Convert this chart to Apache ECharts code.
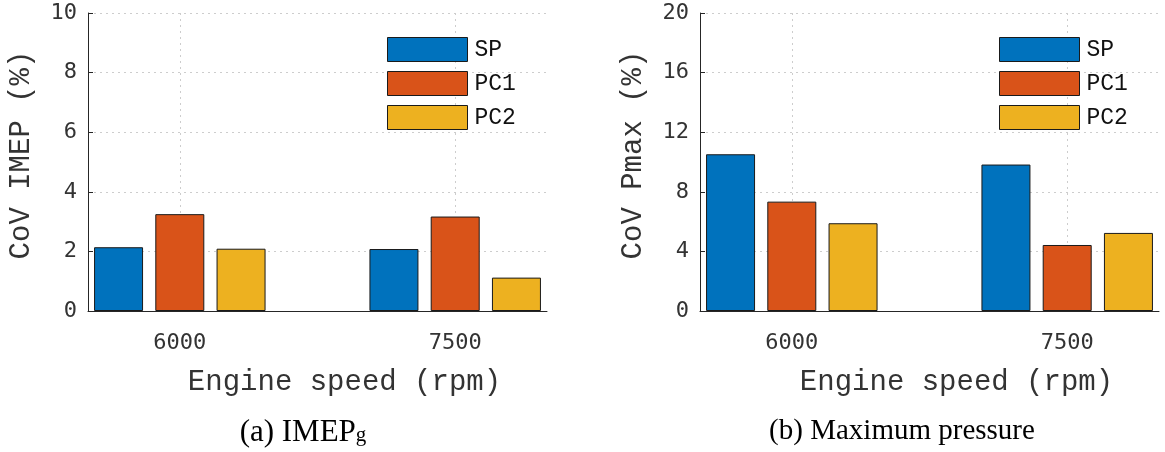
<!DOCTYPE html>
<html>
<head>
<meta charset="utf-8">
<script src="https://cdn.jsdelivr.net/npm/echarts@6/dist/echarts.min.js"></script>
<style>
  html, body { margin: 0; padding: 0; background: #fff; }
  #chart { width: 1165px; height: 452px; }
</style>
</head>
<body>
<div id="chart"></div>
<script>
// Engine speeds (bar groups) and combustion strategies (bars within a group)
const speeds = ['6000', '7500'];
const strategies = ['SP', 'PC1', 'PC2'];
const colors = ['#0072BD', '#D95319', '#EDB120'];

// CoV of gross IMEP (%)
const imepSP  = [2.14, 2.08];
const imepPC1 = [3.25, 3.17];
const imepPC2 = [2.09, 1.12];

// CoV of maximum cylinder pressure (%)
const pmaxSP  = [10.52, 9.83];
const pmaxPC1 = [7.34, 4.43];
const pmaxPC2 = [5.89, 5.24];

// Y axis ranges
const imepAxis = { min: 0, max: 10, interval: 2 };
const pmaxAxis = { min: 0, max: 20, interval: 4 };

const axisColor = '#262626';
const gridColor = '#cdcdcd';
const tickFont = 'DejaVu Sans Mono';
const labelFont = '"Courier New", "Liberation Mono", monospace';

const speedPositions = speeds.map((s, i) => i + 1);

function xAxisFor(gridIndex) {
  return {
    type: 'value',
    gridIndex: gridIndex,
    min: 2 / 3,
    max: 7 / 3,
    name: 'Engine speed (rpm)',
    nameLocation: 'middle',
    nameGap: 57,
    nameTextStyle: { fontFamily: labelFont, fontSize: 29, color: '#333', padding: [0, 0, 0, 54] },
    axisLine: { show: true, onZero: false, lineStyle: { color: axisColor, width: 1 } },
    axisTick: { show: true, inside: true, length: 5, customValues: speedPositions, lineStyle: { color: axisColor } },
    axisLabel: {
      customValues: speedPositions,
      formatter: v => speeds[Math.round(v) - 1] || '',
      fontFamily: tickFont, fontSize: 22, color: '#333', margin: 21
    },
    splitLine: { show: true, lineStyle: { color: gridColor, type: [2, 4], width: 1 } }
  };
}

function yAxisFor(gridIndex, range, name) {
  return {
    type: 'value',
    gridIndex: gridIndex,
    min: range.min,
    max: range.max,
    interval: range.interval,
    name: name,
    nameLocation: 'middle',
    nameGap: 52,
    nameTextStyle: { fontFamily: labelFont, fontSize: 29, color: '#333', padding: [0, 0, 0, 14] },
    axisLine: { show: true, lineStyle: { color: axisColor, width: 1 } },
    axisTick: { show: true, inside: true, length: 5, lineStyle: { color: axisColor } },
    axisLabel: { fontFamily: tickFont, fontSize: 22, color: '#333', margin: 11 },
    splitLine: { show: true, lineStyle: { color: gridColor, type: [2, 4], width: 1 } }
  };
}

function barSeries(name, values, color, axisIndex) {
  return {
    type: 'bar',
    name: name,
    xAxisIndex: axisIndex,
    yAxisIndex: axisIndex,
    data: values.map((v, i) => [speedPositions[i], v]),
    barWidth: 49,
    barGap: '25%',
    itemStyle: { color: color, borderColor: '#1a1a1a', borderWidth: 1 },
    emphasis: { disabled: true },
    animation: false
  };
}

function legendFor(left) {
  return {
    orient: 'vertical',
    left: left,
    top: 37,
    padding: 0,
    itemWidth: 80,
    itemHeight: 24,
    itemGap: 9,
    icon: 'rect',
    selectedMode: false,
    data: strategies,
    itemStyle: { borderColor: '#1a1a1a', borderWidth: 1 },
    textStyle: { fontFamily: labelFont, fontSize: 23, color: '#111', padding: [3, 0, 0, 2] }
  };
}

const chart = echarts.init(document.getElementById('chart'), null, { renderer: 'canvas' });

chart.setOption({
  backgroundColor: '#fff',
  animation: false,
  grid: [
    { left: 88, right: 618, top: 13, bottom: 141 },
    { left: 700, right: 6, top: 13, bottom: 141 }
  ],
  xAxis: [xAxisFor(0), xAxisFor(1)],
  yAxis: [
    yAxisFor(0, imepAxis, 'CoV IMEP (%)'),
    yAxisFor(1, pmaxAxis, 'CoV Pmax (%)')
  ],
  legend: [legendFor(387), legendFor(999)],
  series: [
    barSeries(strategies[0], imepSP, colors[0], 0),
    barSeries(strategies[1], imepPC1, colors[1], 0),
    barSeries(strategies[2], imepPC2, colors[2], 0),
    barSeries(strategies[0], pmaxSP, colors[0], 1),
    barSeries(strategies[1], pmaxPC1, colors[1], 1),
    barSeries(strategies[2], pmaxPC2, colors[2], 1)
  ],
  graphic: [
    {
      type: 'text', x: 303, y: 417,
      style: {
        text: '{m|(a) IMEP}{s|g}',
        align: 'center',
        rich: {
          m: { fontFamily: 'Liberation Serif', fontSize: 31, fill: '#000', padding: [0, 0, 6, 0] },
          s: { fontFamily: 'Liberation Serif', fontSize: 21, fill: '#000' }
        }
      }
    },
    {
      type: 'text', x: 902, y: 417,
      style: {
        text: '(b) Maximum pressure',
        align: 'center',
        fontFamily: 'Liberation Serif', fontSize: 29, fill: '#000'
      }
    }
  ]
});
</script>
</body>
</html>
